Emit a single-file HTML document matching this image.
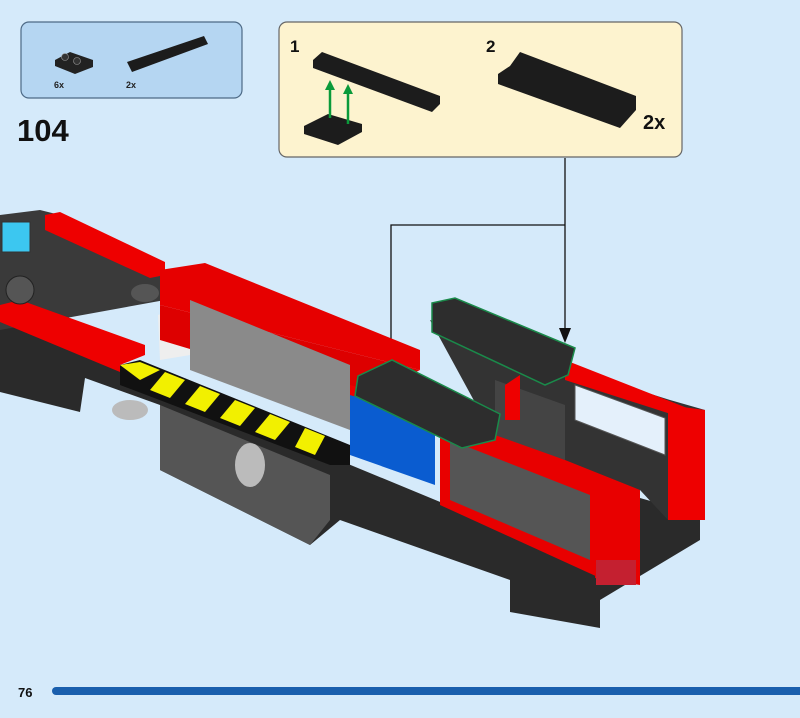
<!DOCTYPE html>
<html><head><meta charset="utf-8"><style>
html,body{margin:0;padding:0;background:#d5eafa;}
svg{display:block;font-family:"Liberation Sans",sans-serif;}
</style></head><body>
<svg width="800" height="718" viewBox="0 0 800 718" xmlns="http://www.w3.org/2000/svg">
<rect width="800" height="718" fill="#d5eafa"/>
<!-- parts box -->
<rect x="21" y="22" width="221" height="76" rx="8" fill="#b5d6f2" stroke="#4d6a86" stroke-width="1.2"/>
<polygon points="55,60 70,52 93,60 93,67 75,74 55,66" fill="#222"/>
<circle cx="65" cy="57" r="3.5" fill="#333" stroke="#999" stroke-width="0.6"/>
<circle cx="77" cy="61" r="3.5" fill="#333" stroke="#999" stroke-width="0.6"/>
<polygon points="127,62 204,36 208,44 132,72" fill="#1c1c1c"/>
<text x="54" y="88" font-size="9" fill="#222" font-weight="bold">6x</text>
<text x="126" y="88" font-size="9" fill="#222" font-weight="bold">2x</text>
<text x="17" y="141" font-size="31" font-weight="bold" fill="#111">104</text>
<!-- step box -->
<rect x="279" y="22" width="403" height="135" rx="8" fill="#fdf3cf" stroke="#666" stroke-width="1.2"/>
<text x="290" y="52" font-size="17" font-weight="bold" fill="#111">1</text>
<text x="486" y="52" font-size="17" font-weight="bold" fill="#111">2</text>
<text x="643" y="129" font-size="20" font-weight="bold" fill="#111">2x</text>
<polygon points="313,60 322,52 440,96 440,104 432,112 313,68" fill="#1c1c1c"/>
<polygon points="304,126 328,114 362,124 362,132 338,145 304,134" fill="#1c1c1c"/>
<line x1="330" y1="118" x2="330" y2="88" stroke="#0a9a3a" stroke-width="2.5"/>
<polygon points="325,90 330,80 335,90" fill="#0a9a3a"/>
<line x1="348" y1="124" x2="348" y2="92" stroke="#0a9a3a" stroke-width="2.5"/>
<polygon points="343,94 348,84 353,94" fill="#0a9a3a"/>
<polygon points="498,74 510,66 520,52 636,96 636,110 620,128 498,84" fill="#1c1c1c"/>
<!-- connectors -->
<polyline points="565,158 565,333" fill="none" stroke="#111" stroke-width="1.3"/>
<polygon points="559,328 565,343 571,328" fill="#111"/>
<polyline points="565,225 391,225 391,355" fill="none" stroke="#111" stroke-width="1.3"/>
<polygon points="385,350 391,365 397,350" fill="#111"/>
<!-- truck base -->
<polygon points="0,320 520,535 640,498 700,515 700,540 600,600 600,628 510,612 510,580 340,520 310,545 160,470 160,405 85,378 80,412 0,392" fill="#2a2a2a"/>
<polygon points="160,405 330,475 330,520 310,545 160,470" fill="#555"/>
<ellipse cx="250" cy="465" rx="15" ry="22" fill="#bbb"/>
<ellipse cx="130" cy="410" rx="18" ry="10" fill="#bbb"/>
<!-- left section -->
<polygon points="0,215 40,210 60,215 165,265 165,300 0,330" fill="#3a3a3a"/>
<polygon points="45,215 60,212 165,262 165,275 150,278 45,230" fill="#e00"/>
<polygon points="0,305 0,315 120,365 145,355 145,345 20,300" fill="#e00"/>
<polygon points="0,312 120,362 120,372 0,322" fill="#e00"/>
<rect x="2" y="222" width="28" height="30" fill="#3cc7f0" stroke="#333"/>
<circle cx="20" cy="290" r="14" fill="#555" stroke="#222"/>
<polygon points="158,315 190,305 190,355 160,360" fill="#eee"/>
<!-- red top and side middle -->
<polygon points="160,270 205,263 420,350 420,370 160,305" fill="#e60000"/>
<polygon points="160,305 420,370 360,400 160,340" fill="#d00"/>
<polygon points="190,300 350,365 350,430 190,370" fill="#8a8a8a"/>
<ellipse cx="145" cy="293" rx="14" ry="9" fill="#555"/>
<!-- yellow/black stripes -->
<polygon points="120,365 140,360 350,445 350,465 330,465 120,385" fill="#111"/>
<g fill="#f2f000">
<polygon points="120,365 140,362 160,370 140,380"/>
<polygon points="165,372 185,380 170,398 150,390"/>
<polygon points="200,386 220,394 205,412 185,404"/>
<polygon points="235,400 255,408 240,426 220,418"/>
<polygon points="270,414 290,422 275,440 255,432"/>
<polygon points="305,428 325,436 315,455 295,447"/>
</g>
<!-- blue -->
<polygon points="350,395 435,420 435,485 350,455" fill="#0a5cd0"/>
<polygon points="350,385 440,410 440,420 350,395" fill="#e00"/>
<!-- front panel -->
<polygon points="440,405 605,468 600,578 440,505" fill="#e80000"/>
<polygon points="450,440 590,495 590,560 450,500" fill="#555"/>
<polygon points="595,470 640,480 640,585 595,578" fill="#e80000"/>
<rect x="596" y="560" width="40" height="25" fill="#c42030"/>
<!-- rear compartment -->
<polygon points="430,320 575,370 670,400 705,410 705,520 668,520 640,490 565,460 490,430" fill="#333"/>
<polygon points="565,360 705,415 705,425 565,380" fill="#e00"/>
<polygon points="575,385 665,418 665,455 575,420" fill="#e4f0fb" stroke="#555"/>
<polygon points="668,405 705,410 705,520 668,520" fill="#e00"/>
<polygon points="495,380 565,405 565,460 495,435" fill="#444"/>
<polygon points="505,385 520,375 520,420 505,420" fill="#e00"/>
<!-- new pieces with green outline -->
<polygon points="432,303 455,298 575,348 568,375 545,385 432,332" fill="#2d2d2d" stroke="#1a8a4a" stroke-width="1.5"/>
<polygon points="358,376 392,360 500,414 495,440 462,448 355,396" fill="#2d2d2d" stroke="#1a8a4a" stroke-width="1.5"/>
<!-- footer -->
<text x="18" y="697" font-size="13" font-weight="bold" fill="#111">76</text>
<rect x="52" y="687" width="760" height="8" rx="4" fill="#1a5fad"/>
</svg>
</body></html>
